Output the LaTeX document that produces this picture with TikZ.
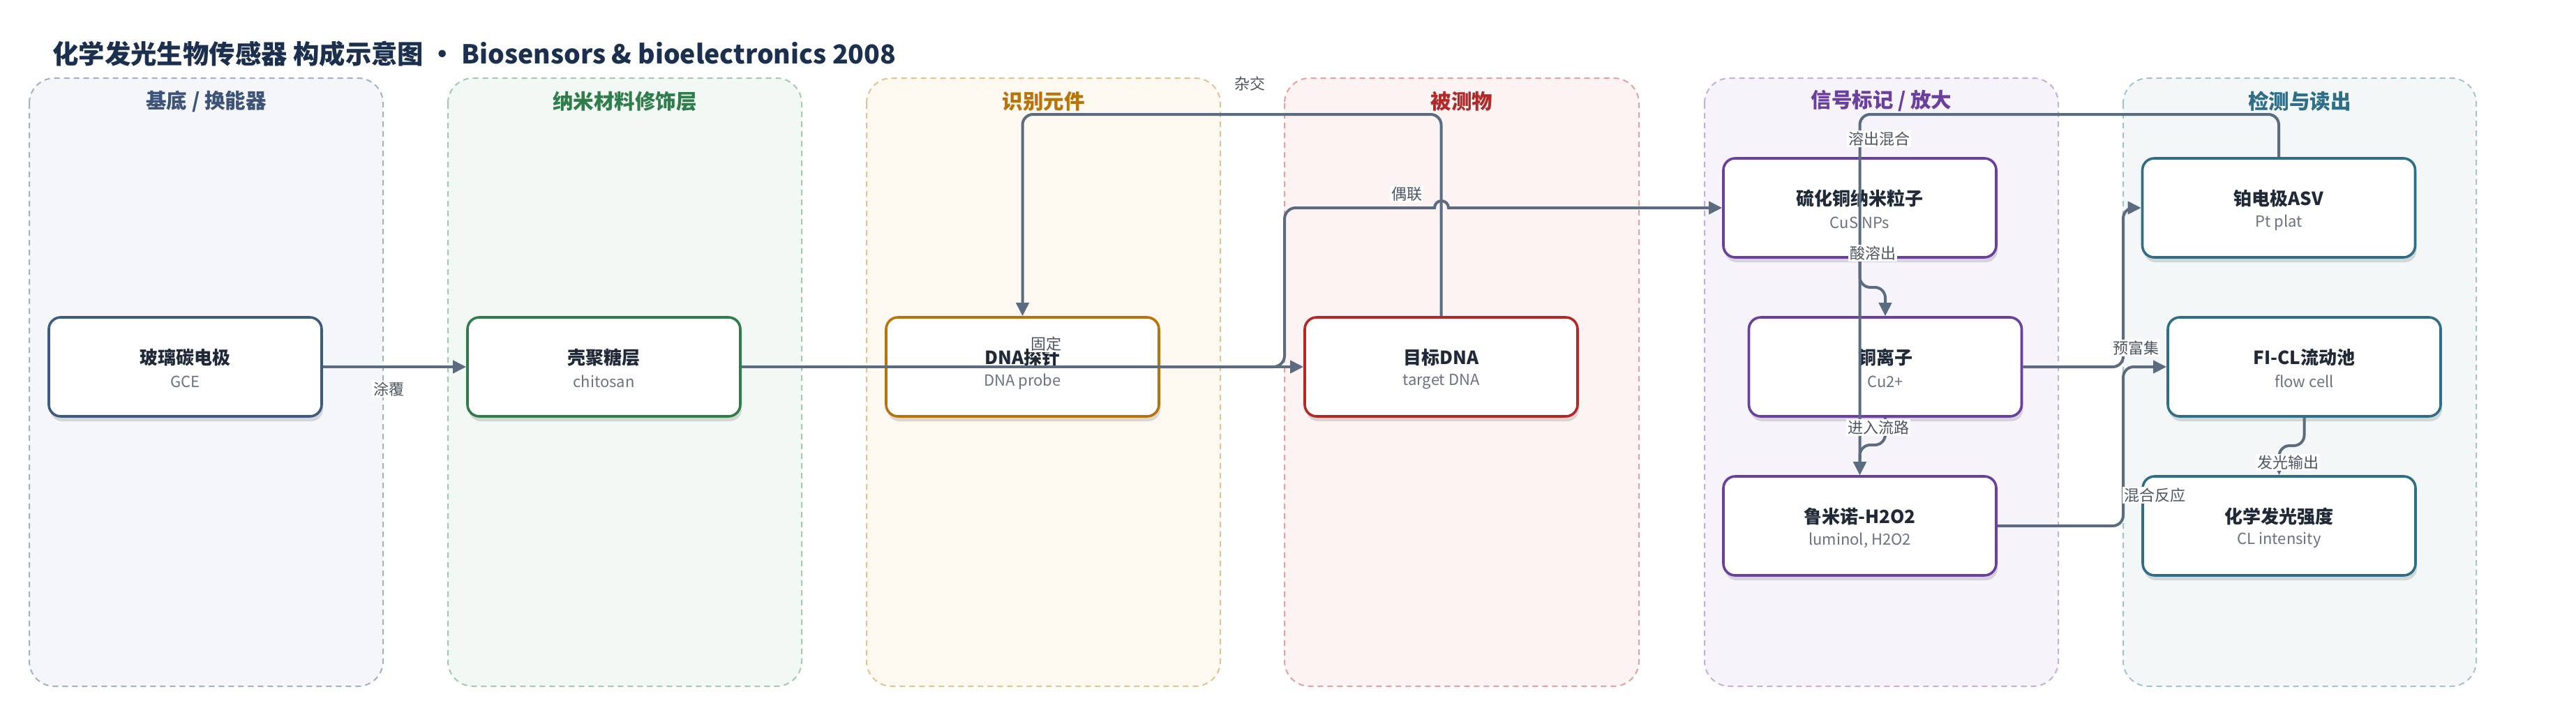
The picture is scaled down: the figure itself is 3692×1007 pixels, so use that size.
\documentclass[tikz,border=0pt]{standalone}
\usepackage{fontspec}
\setmainfont{Noto Sans CJK SC}
\usetikzlibrary{arrows.meta,shadows,calc}

\definecolor{edgec}{HTML}{5B6B80}
\definecolor{labc}{HTML}{4B5563}
\definecolor{ttlc}{HTML}{1F2937}
\definecolor{subc}{HTML}{6B7280}
\definecolor{headc}{HTML}{1B2F4E}
% lanes
\definecolor{lAf}{HTML}{F5F6FA}\definecolor{lAd}{HTML}{A3B1C6}\definecolor{lAt}{HTML}{3D5478}
\definecolor{lBf}{HTML}{F2F8F3}\definecolor{lBd}{HTML}{A2CCAE}\definecolor{lBt}{HTML}{2E7D4A}
\definecolor{lCf}{HTML}{FDF8F0}\definecolor{lCd}{HTML}{E3C38E}\definecolor{lCt}{HTML}{B8740A}
\definecolor{lDf}{HTML}{FDF3F2}\definecolor{lDd}{HTML}{E3A1A1}\definecolor{lDt}{HTML}{B02A2A}
\definecolor{lEf}{HTML}{F7F3FB}\definecolor{lEd}{HTML}{C7ADE0}\definecolor{lEt}{HTML}{6A3FA0}
\definecolor{lFf}{HTML}{F3F7F8}\definecolor{lFd}{HTML}{A3C4CF}\definecolor{lFt}{HTML}{2F6E87}
% node borders
\definecolor{bA}{HTML}{3D5A80}
\definecolor{bB}{HTML}{2E7D4A}
\definecolor{bC}{HTML}{B8740A}
\definecolor{bD}{HTML}{B52828}
\definecolor{bE}{HTML}{6A3FA0}
\definecolor{bF}{HTML}{2F6E87}

\tikzset{
  lanebox/.style 2 args={draw=#2, fill=#1, line width=2pt, dash pattern=on 8pt off 6pt, rounded corners=36pt},
  lanetitle/.style={text=#1, font=\fontsize{29.5}{31}\selectfont\bfseries, inner sep=0pt},
  procbox/.style={draw=#1, line width=3.6pt, fill=white, rounded corners=17pt,
     minimum width=391pt, minimum height=142pt, inner sep=0pt,
     drop shadow={shadow xshift=2pt, shadow yshift=-7pt, opacity=0.13, fill=black}},
  boxtitle/.style={text=ttlc, font=\fontsize{26}{28}\selectfont\bfseries, inner sep=0pt},
  boxsub/.style={text=subc, font=\fontsize{22}{24}\selectfont, inner sep=0pt},
  edge/.style={draw=edgec, line width=4pt, -{Triangle[length=19pt,width=18pt]}},
  elabel/.style={fill=white, inner sep=2pt, text=labc, font=\fontsize{22}{24}\selectfont},
}

\newcommand\mkbox[6]{% name, x, y, color, title, sub
  \node[procbox=#4] (#1) at (#2,#3) {};
  \node[boxtitle] (#1-t) at ($(#1.center)+(0,-13)$) {#5};
  \node[boxsub] (#1-s) at ($(#1.center)+(0,21)$) {#6};
}

\begin{document}
\begin{tikzpicture}[x=1pt,y=-1pt]
\useasboundingbox (0,0) rectangle (3692,1007);
\fill[white] (0,0) rectangle (3692,1007);

% title
\node[anchor=west, text=headc, font=\fontsize{37.4}{40}\selectfont\bfseries, inner sep=0pt] (title) at (75,77)
  {化学发光生物传感器 构成示意图 · Biosensors \& bioelectronics 2008};

% lanes
\path[lanebox={lAf}{lAd}] (42,112) rectangle (549,984);
\path[lanebox={lBf}{lBd}] (642,112) rectangle (1149,984);
\path[lanebox={lCf}{lCd}] (1242,112) rectangle (1749,984);
\path[lanebox={lDf}{lDd}] (1841,112) rectangle (2349,984);
\path[lanebox={lEf}{lEd}] (2443,112) rectangle (2950,984);
\path[lanebox={lFf}{lFd}] (3043,112) rectangle (3549,984);

\node[lanetitle=lAt] (lane1) at (295.5,145) {基底 / 换能器};
\node[lanetitle=lBt] (lane2) at (895.5,145) {纳米材料修饰层};
\node[lanetitle=lCt] (lane3) at (1495.5,145) {识别元件};
\node[lanetitle=lDt] (lane4) at (2095,145) {被测物};
\node[lanetitle=lEt] (lane5) at (2696.5,145) {信号标记 / 放大};
\node[lanetitle=lFt] (lane6) at (3296,145) {检测与读出};

% nodes
\mkbox{gce}{265.5}{526}{bA}{玻璃碳电极}{GCE}
\mkbox{chi}{865.5}{526}{bB}{壳聚糖层}{chitosan}
\mkbox{probe}{1465.5}{526}{bC}{DNA探针}{DNA probe}
\mkbox{tgt}{2065.5}{526}{bD}{目标DNA}{target DNA}
\mkbox{cus}{2665.5}{298}{bE}{硫化铜纳米粒子}{CuS NPs}
\mkbox{cu}{2702}{526}{bE}{铜离子}{Cu2+}
\mkbox{lum}{2665.5}{754}{bE}{鲁米诺-H2O2}{luminol, H2O2}
\mkbox{pt}{3266}{298}{bF}{铂电极ASV}{Pt plat}
\mkbox{flow}{3302.5}{526}{bF}{FI-CL流动池}{flow cell}
\mkbox{cl}{3266.5}{754}{bF}{化学发光强度}{CL intensity}

% helper coordinates
\coordinate (topY) at (0,164);

% edges
\draw[edge] (gce.east) -- (chi.west);
\draw[edge] (chi.east) -- (tgt.west);
\draw[edge, rounded corners=15pt] (tgt.north) -- (tgt.north |- topY) -- (probe.north |- topY) -- (probe.north);
\draw[edge] (probe.east) [rounded corners=16pt] -- (1841,526) -- (1841,298) [sharp corners] -- (2056,298)
   arc[start angle=180, end angle=360, radius=10] -- (cus.west);
\draw[edge, rounded corners=15pt] (cus.south) -- (2665.5,412) -- (2702,412) -- (cu.north);
\draw[edge, rounded corners=15pt] (cu.south) -- (2702,638) -- (2665.5,638) -- (lum.north);
\draw[edge, rounded corners=15pt] (pt.north) -- (pt.north |- topY) -- (2665.5,164) -- (lum.north);
\draw[edge, rounded corners=15pt] (cu.east) -- (3043,526) -- (3043,298) -- (pt.west);
\draw[edge, rounded corners=15pt] (lum.east) -- (3043,754) -- (3043,526) -- (flow.west);
\draw[edge, rounded corners=15pt] (flow.south) -- (3302.5,639) -- (3266.5,639) -- (cl.north);

% edge labels
\node[elabel] (l1) at (557,558) {涂覆};
\node[elabel] (l2) at (1499,493) {固定};
\node[elabel] (l3) at (1791,120) {杂交};
\node[elabel] (l4) at (2016,278) {偶联};
\node[elabel] (l5) at (2684,363) {酸溶出};
\node[elabel] (l6) at (2692,613) {进入流路};
\node[elabel] (l7) at (2693,199) {溶出混合};
\node[elabel] (l8) at (3061,499) {预富集};
\node[elabel] (l9) at (3088,710) {混合反应};
\node[elabel] (l10) at (3279,663) {发光输出};
\end{tikzpicture}
\end{document}
